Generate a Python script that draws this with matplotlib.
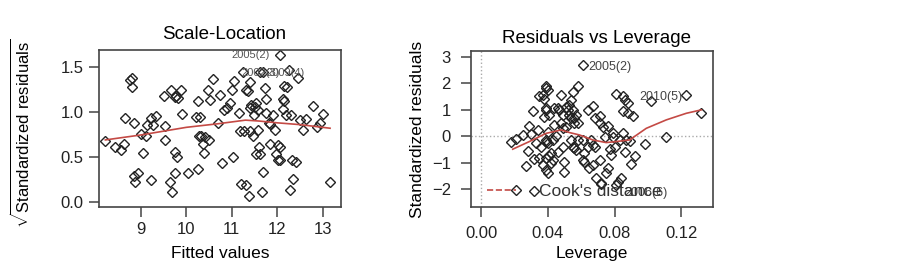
import matplotlib
matplotlib.use("Agg")
import matplotlib.pyplot as plt
from matplotlib.lines import Line2D

plt.rcParams['font.family'] = ['Liberation Sans', 'DejaVu Sans']
plt.rcParams['mathtext.fontset'] = 'custom'
plt.rcParams['mathtext.rm'] = 'Liberation Sans'

# ---------------- Scale-Location data ----------------
sl_fitted = [8.22, 8.43, 8.57, 8.64, 8.66, 8.77, 8.81, 8.81, 8.84, 8.84, 8.88, 8.93,
             9.01, 9.04, 9.12, 9.13, 9.23, 9.26, 9.34, 9.23, 9.51, 9.54, 9.54, 9.67,
             9.74, 9.78, 9.82, 9.88, 9.90, 9.74, 9.80, 9.74, 9.65, 9.69, 10.04, 10.26,
             10.22, 10.26, 10.29, 10.28, 10.32, 10.37, 10.40, 10.38, 10.50, 10.48, 10.53,
             10.59, 10.70, 10.74, 10.79, 10.82, 10.90, 10.96, 11.01, 11.05, 11.03, 11.15,
             11.21, 11.31, 11.18, 11.27, 11.25, 11.36, 11.32, 11.41, 11.40, 11.38, 11.46,
             11.41, 11.43, 11.51, 11.49, 11.58, 11.54, 11.53, 11.60, 11.62, 11.58, 11.69,
             11.67, 11.62, 11.69, 11.73, 11.76, 11.76, 11.81, 11.84, 11.85, 11.91, 11.96,
             11.97, 12.01, 12.06, 12.02, 12.07, 12.07, 12.12, 12.15, 12.13, 12.18, 12.15,
             12.22, 12.26, 12.29, 12.28, 12.34, 12.32, 12.41, 12.45, 12.50, 12.56, 12.63,
             12.79, 12.87, 12.94, 13.01, 13.16]
sl_sqrt_res = [0.68, 0.61, 0.58, 0.65, 0.93, 1.36, 1.38, 1.28, 0.88, 0.29, 0.22, 0.32,
               0.76, 0.54, 0.73, 0.86, 0.93, 0.86, 0.96, 0.24, 1.18, 0.84, 0.69, 1.25,
               1.17, 1.18, 1.16, 1.24, 0.98, 0.56, 0.50, 0.32, 0.22, 0.11, 0.32, 0.37,
               0.95, 1.12, 0.95, 0.73, 0.73, 0.65, 0.72, 0.55, 0.69, 1.25, 1.13,
               1.37, 0.88, 1.19, 0.43, 1.02, 1.05, 1.10, 1.25, 1.35, 0.50, 0.99,
               0.20, 0.19, 0.79, 0.79, 1.45, 1.23, 1.24, 1.33, 0.79, 0.07, 0.73,
               1.04, 1.08, 1.06, 0.97, 1.02, 1.10, 0.53, 0.61, 0.53, 0.80, 0.33,
               0.11, 1.45, 1.45, 1.27, 1.14, 0.99, 0.88, 0.64, 0.87, 0.97, 0.80,
               0.53, 0.63, 0.61, 0.47, 0.47, 1.63, 1.15, 1.12, 1.03, 0.97, 1.29,
               1.28, 1.47, 0.97, 0.13, 0.26, 0.47, 0.45, 1.38, 0.91, 0.80, 0.92,
               1.07, 0.83, 0.88, 0.98, 0.22]
sl_smooth_x = [8.22, 9.0, 10.0, 10.7, 11.3, 11.6, 12.0, 12.5, 13.16]
sl_smooth_y = [0.69, 0.745, 0.83, 0.87, 0.91, 0.90, 0.88, 0.86, 0.82]
sl_labels = ["2005(2)", "2002(3)", "2009(4)"]
sl_label_x = [11.84, 12.05, 12.60]
sl_label_y = [1.63, 1.43, 1.43]
sl_xticks = [9, 10, 11, 12, 13]
sl_yticks = [0.0, 0.5, 1.0, 1.5]

# ---------------- Residuals vs Leverage data ----------------
lev_x = [0.018, 0.021, 0.021, 0.025, 0.027, 0.028, 0.029, 0.031, 0.030, 0.032, 0.032,
         0.033, 0.034, 0.035, 0.035, 0.037, 0.036, 0.037, 0.038, 0.038, 0.039, 0.039,
         0.040, 0.039, 0.039, 0.039, 0.039, 0.040, 0.039, 0.040, 0.039, 0.041, 0.040,
         0.041, 0.042, 0.042, 0.043, 0.043, 0.044, 0.044, 0.045, 0.046, 0.046, 0.047,
         0.048, 0.048, 0.049, 0.049, 0.049, 0.050, 0.050, 0.051, 0.051, 0.052, 0.053,
         0.053, 0.054, 0.054, 0.054, 0.055, 0.055, 0.055, 0.056, 0.056, 0.056, 0.057,
         0.057, 0.058, 0.058, 0.058, 0.061, 0.061, 0.062, 0.061, 0.062, 0.064, 0.064,
         0.065, 0.066, 0.067, 0.067, 0.067, 0.068, 0.068, 0.069, 0.071, 0.071, 0.071,
         0.072, 0.072, 0.073, 0.074, 0.075, 0.076, 0.076, 0.077, 0.078, 0.079, 0.079,
         0.080, 0.081, 0.081, 0.082, 0.083, 0.084, 0.085, 0.085, 0.085, 0.086, 0.086,
         0.087, 0.088, 0.088, 0.089, 0.090, 0.091, 0.092, 0.098, 0.102, 0.111, 0.123,
         0.132]
lev_res = [-0.20, -0.11, -2.04, 0.05, -1.11, -0.56, 0.39, 0.96, 0.08, -0.87, -2.06,
           -0.27, 0.24, -0.84, 1.53, 1.57, -0.39, -1.09, 0.72, 1.41, 1.82, 1.89,
           1.76, 0.99, 1.06, -0.14, -0.20, -0.27, -1.28, -1.38, -0.84, 0.81, 0.18,
           -0.75, -1.03, -0.65, -0.90, -0.14, 1.06, 0.43, 0.01, -0.58, 1.06, 0.99,
           1.57, 0.49, 0.30, 0.81, -0.39, -0.96, -1.34, 0.35, 1.09, 0.99, 0.81,
           1.19, 0.68, 1.38, -0.14, -0.39, 1.66, 0.99, 0.68, 0.49, -0.46, -0.52,
           0.81, 1.89, -0.14, 0.49, 2.71, -0.90, -0.99, -0.14, -0.65, -0.39, 0.99,
           -1.22, -0.14, 1.15, -0.33, -1.09, 0.68, -0.39, -1.59, 0.49, 0.75, -0.90,
           -1.76, -1.82, 0.35, -0.01, -1.41, 0.39, -1.22, -0.49, -0.71, 0.11, -0.01,
           -0.39, 1.59, -1.85, -1.72, -0.16, -1.59, 1.51, 0.94, 0.11, -0.58, 1.38,
           -0.14, 1.25, 0.87, -0.18, -1.06, 0.77, -0.73, -0.29, 1.35, -0.01, 1.57,
           0.87]
lev_smooth_x = [0.019, 0.029, 0.039, 0.048, 0.053, 0.059, 0.067, 0.075, 0.081, 0.089,
                0.099, 0.111, 0.123, 0.132]
lev_smooth_y = [-0.49, -0.20, 0.11, 0.24, 0.14, 0.05, -0.14, -0.24, -0.20, -0.14,
                0.30, 0.62, 0.87, 1.00]
lev_labels = ["2005(2)", "2010(5)", "2006(6)"]
lev_label_x = [0.0642, 0.1206, 0.0858]
lev_label_y = [2.63, 1.49, -2.15]
lev_label_ha = ["left", "right", "left"]
lev_xticks = [0.00, 0.04, 0.08, 0.12]
lev_xticklabels = ["0.00", "0.04", "0.08", "0.12"]
lev_yticks = [-2, -1, 0, 1, 2, 3]

RED = '#c44a45'
FRAME = '#444444'
TICK_FS = 12
LAB_FS = 12.5
TITLE_FS = 13.5

fig = plt.figure(figsize=(9.02, 2.64), dpi=100)
ax1 = fig.add_axes([99/902, 1-207/264, 242/902, 157/264])
ax2 = fig.add_axes([471/902, 1-207/264, 242/902, 156/264])

def style(ax, ypad, xpad):
    for s in ax.spines.values():
        s.set_color(FRAME)
        s.set_linewidth(1.2)
    ax.tick_params(axis='both', direction='out', length=7.5, width=1.1,
                   color=FRAME, labelsize=TICK_FS, labelcolor='#222222')
    ax.tick_params(axis='y', pad=ypad)
    ax.tick_params(axis='x', pad=xpad)

# Scale-Location
ax1.plot(sl_fitted, sl_sqrt_res, linestyle='none', marker='D', markersize=5.2,
         markerfacecolor='none', markeredgecolor='#222222', markeredgewidth=1.0)
ax1.plot(sl_smooth_x, sl_smooth_y, color=RED, lw=1.2)
for t, x, y in zip(sl_labels, sl_label_x, sl_label_y):
    ax1.text(x, y, t, ha='right', va='center', fontsize=8, color='#555555')
ax1.set_xlim(8.08, 13.4)
ax1.set_ylim(-0.056, 1.69)
ax1.set_xticks(sl_xticks)
ax1.set_yticks(sl_yticks)
ax1.set_yticklabels([f"{v:.1f}" for v in sl_yticks])
style(ax1, 3.5, 3.5)
ax1.set_title("Scale-Location", fontsize=TITLE_FS, pad=8, x=0.517)
ax1.set_xlabel("Fitted values", fontsize=LAB_FS, va='center')
ax1.xaxis.set_label_coords(0.5, -0.295)
ax1.set_ylabel(r"$\sqrt{\mathrm{Standardized\ residuals}}$", fontsize=LAB_FS - 0.5, va='center')
ax1.yaxis.set_label_coords(-0.32, 0.47)

# Residuals vs Leverage
ax2.axhline(0, color='#aaaaaa', lw=1, ls=':')
ax2.axvline(0, color='#aaaaaa', lw=1, ls=':')
ax2.plot(lev_x, lev_res, linestyle='none', marker='D', markersize=5.2,
         markerfacecolor='none', markeredgecolor='#222222', markeredgewidth=1.0)
ax2.plot(lev_smooth_x, lev_smooth_y, color=RED, lw=1.2)
for t, x, y, ha in zip(lev_labels, lev_label_x, lev_label_y, lev_label_ha):
    ax2.text(x, y, t, ha=ha, va='center', fontsize=9, color='#444444')
ax2.set_xlim(-0.006, 0.139)
ax2.set_ylim(-2.68, 3.23)
ax2.set_xticks(lev_xticks)
ax2.set_xticklabels(lev_xticklabels)
ax2.set_yticks(lev_yticks)
style(ax2, 7, 6)
ax2.set_title("Residuals vs Leverage", fontsize=TITLE_FS, pad=6, x=0.52)
ax2.set_xlabel("Leverage", fontsize=LAB_FS, va='center')
ax2.xaxis.set_label_coords(0.5, -0.295)
ax2.set_ylabel("Standardized residuals", fontsize=LAB_FS, va='center')
ax2.yaxis.set_label_coords(-0.223, 0.5)
handle = Line2D([], [], color=RED, lw=1.2, ls='--')
leg = ax2.legend([handle], ["Cook's distance"], loc='center left',
                 bbox_to_anchor=(0.066, 0.098), frameon=False, fontsize=12.5,
                 borderpad=0, borderaxespad=0, handlelength=1.7, handletextpad=1.3)
for txt in leg.get_texts():
    txt.set_color('#333333')

fig.savefig("out.png", dpi=100)
